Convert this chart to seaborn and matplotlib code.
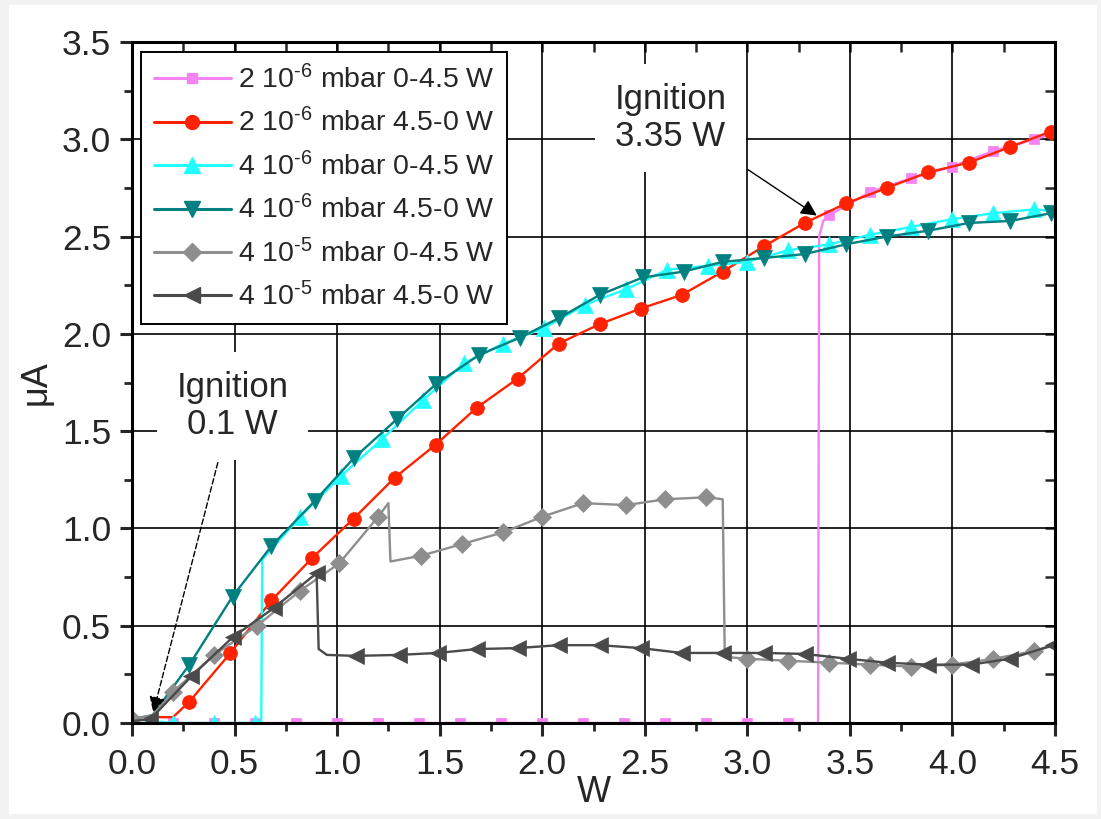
import numpy as np
import matplotlib
matplotlib.use("Agg")
import matplotlib.pyplot as plt
from matplotlib.lines import Line2D
from matplotlib.patches import Rectangle
from matplotlib.ticker import MultipleLocator
import seaborn as sns

# data (W, uA)
pink_w = [0.0, 0.2, 0.4, 0.6, 0.8, 1.0, 1.2, 1.4, 1.6, 1.8, 2.0, 2.2, 2.4, 2.6, 2.8, 3.0, 3.2,
          3.345, 3.35, 3.37, 3.4, 3.6, 3.8, 4.0, 4.2, 4.4, 4.5]
pink_ua = [0.0] * 18 + [2.5, 2.58, 2.61, 2.73, 2.80, 2.86, 2.94, 3.00, 3.03]

red_w = [0.10, 0.20, 0.28, 0.48, 0.68, 0.88, 1.08, 1.28, 1.48, 1.68, 1.88, 2.08, 2.28,
         2.48, 2.68, 2.88, 3.08, 3.28, 3.48, 3.68, 3.88, 4.08, 4.28, 4.48, 4.5]
red_ua = [0.03, 0.03, 0.11, 0.36, 0.63, 0.85, 1.05, 1.26, 1.43, 1.62, 1.77, 1.95, 2.05,
          2.13, 2.20, 2.32, 2.45, 2.57, 2.67, 2.75, 2.83, 2.88, 2.96, 3.04, 3.05]

cyan_w = [0.0, 0.2, 0.4, 0.6, 0.63, 0.635, 0.82, 1.02, 1.22, 1.42, 1.62, 1.81, 2.01, 2.21,
          2.41, 2.61, 2.81, 3.0, 3.2, 3.4, 3.6, 3.8, 4.0, 4.2, 4.4, 4.5]
cyan_ua = [0.02, 0.0, 0.0, 0.0, 0.0, 0.84, 1.06, 1.27, 1.46, 1.66, 1.85, 1.95, 2.03, 2.15,
           2.23, 2.33, 2.35, 2.37, 2.43, 2.46, 2.51, 2.55, 2.59, 2.62, 2.64, 2.63]

teal_w = [0.0, 0.1, 0.28, 0.49, 0.68, 0.89, 1.08, 1.29, 1.48, 1.69, 1.89, 2.08, 2.28, 2.49,
          2.69, 2.88, 3.08, 3.28, 3.48, 3.68, 3.88, 4.08, 4.28, 4.48, 4.5]
teal_ua = [0.02, 0.04, 0.30, 0.65, 0.91, 1.14, 1.36, 1.56, 1.74, 1.89, 1.98, 2.08, 2.20, 2.29,
           2.32, 2.37, 2.39, 2.41, 2.46, 2.50, 2.53, 2.57, 2.58, 2.62, 2.63]

grey_w = [0.0, 0.1, 0.2, 0.4, 0.61, 0.82, 1.01, 1.2, 1.25, 1.26, 1.41, 1.61, 1.81, 2.0, 2.2,
          2.41, 2.6, 2.8, 2.88, 2.89, 3.0, 3.2, 3.4, 3.6, 3.8, 4.0, 4.2, 4.4, 4.5]
grey_ua = [0.02, 0.04, 0.16, 0.35, 0.50, 0.68, 0.82, 1.06, 1.13, 0.83, 0.86, 0.92, 0.98, 1.06,
           1.13, 1.12, 1.15, 1.16, 1.15, 0.34, 0.33, 0.32, 0.31, 0.30, 0.29, 0.30, 0.33, 0.37, 0.40]

dark_w = [0.0, 0.09, 0.29, 0.49, 0.69, 0.90, 0.91, 0.95, 1.09, 1.3, 1.49, 1.68, 1.88, 2.08,
          2.28, 2.48, 2.68, 2.88, 3.08, 3.28, 3.49, 3.68, 3.88, 4.09, 4.28, 4.49]
dark_ua = [0.01, 0.02, 0.24, 0.44, 0.59, 0.77, 0.38, 0.35, 0.345, 0.35, 0.36, 0.38, 0.385, 0.40,
           0.40, 0.385, 0.36, 0.36, 0.36, 0.355, 0.33, 0.31, 0.30, 0.30, 0.33, 0.40]

labels = [r"2 10$^{\text{-6}}$ mbar 0-4.5 W", r"2 10$^{\text{-6}}$ mbar 4.5-0 W",
          r"4 10$^{\text{-6}}$ mbar 0-4.5 W", r"4 10$^{\text{-6}}$ mbar 4.5-0 W",
          r"4 10$^{\text{-5}}$ mbar 0-4.5 W", r"4 10$^{\text{-5}}$ mbar 4.5-0 W"]

series = [
    (pink_w, pink_ua, dict(color="#f483f4", marker="s", ms=7.5, markevery=list(range(17)) + list(range(20, 26)))),
    (red_w, red_ua, dict(color="#ff2200", marker="o", ms=10, markevery=list(range(2, 24)))),
    (cyan_w, cyan_ua, dict(color="#22ffff", marker="^", ms=11, markevery=[0, 1, 2, 3] + list(range(6, 25)))),
    (teal_w, teal_ua, dict(color="#008080", marker="v", ms=11, markevery=list(range(2, 24)))),
    (grey_w, grey_ua, dict(color="#8e8e8e", marker="D", ms=9, markevery=[0, 2, 3, 4, 5, 6, 7] + list(range(10, 18)) + list(range(20, 28)))),
    (dark_w, dark_ua, dict(color="#4a4a4a", marker="<", ms=11, markevery=[1, 2, 3, 4, 5] + list(range(8, 26)))),
]

sns.set_style("white")
plt.rcParams["font.family"] = ["Liberation Sans", "DejaVu Sans"]
plt.rcParams["mathtext.fontset"] = "custom"
plt.rcParams["mathtext.rm"] = "Liberation Sans"
plt.rcParams["mathtext.it"] = "Liberation Sans:italic"

fig, ax = plt.subplots(figsize=(11.01, 8.19), dpi=100)
fig.subplots_adjust(left=132 / 1101, right=1055 / 1101, bottom=1 - 723 / 819, top=1 - 42 / 819)
fig.patch.set_facecolor("#f2f2f2")
fig.patches.append(Rectangle((9 / 1101, 5 / 819), 1088 / 1101, 809 / 819, transform=fig.transFigure,
                             facecolor="white", edgecolor="none", zorder=-10))

handles = []
for w, ua, st in series:
    sns.lineplot(x=w, y=ua, ax=ax, estimator=None, sort=False, color=st["color"], linewidth=1.7,
                 marker=st["marker"], markersize=st["ms"], markevery=st["markevery"],
                 markeredgecolor=st["color"], markeredgewidth=0.5, legend=False)
    handles.append(Line2D([], [], color=st["color"], linewidth=2.2, marker=st["marker"],
                          markersize=st["ms"], markeredgecolor=st["color"]))

ax.set_xlim(0, 4.5)
ax.set_ylim(0, 3.5)
ax.xaxis.set_major_locator(MultipleLocator(0.5))
ax.yaxis.set_major_locator(MultipleLocator(0.5))
ax.xaxis.set_minor_locator(MultipleLocator(0.25))
ax.yaxis.set_minor_locator(MultipleLocator(0.25))
ax.xaxis.set_major_formatter("{x:.1f}")
ax.yaxis.set_major_formatter("{x:.1f}")
ax.grid(True, which="major", color="black", linewidth=1.2)
ax.set_axisbelow(True)
ax.tick_params(which="major", direction="out", length=9, width=2.2, labelsize=25.5,
               left=True, bottom=True)
ax.tick_params(axis="x", which="major", pad=9)
ax.tick_params(axis="y", which="major", pad=6)
ax.tick_params(which="minor", direction="out", length=6, width=2, left=True, bottom=True)
for s in ax.spines.values():
    s.set_linewidth(2.2)
    s.set_color("black")

sec = ax.secondary_xaxis("top")
sec.xaxis.set_major_locator(MultipleLocator(0.5))
sec.xaxis.set_minor_locator(MultipleLocator(0.25))
sec.tick_params(which="both", direction="in", length=7, width=1.8, labeltop=False)
sec = ax.secondary_yaxis("right")
sec.yaxis.set_major_locator(MultipleLocator(0.5))
sec.yaxis.set_minor_locator(MultipleLocator(0.25))
sec.tick_params(which="both", direction="in", length=7, width=1.8, labelright=False)

ax.set_xlabel("W", fontsize=26, labelpad=-4)
ax.set_ylabel("μA", fontsize=26, labelpad=6)

leg = ax.legend(handles, labels, loc="upper left", bbox_to_anchor=(0.0098, 0.985), borderaxespad=0,
                frameon=True, fancybox=False, edgecolor="black", framealpha=1, fontsize=20.5,
                handlelength=2.7, labelspacing=0.5, borderpad=0.45, handletextpad=0.25)
leg.get_frame().set_linewidth(1.4)

ax.annotate("Ignition\n3.35 W", xy=(3.35, 2.6), xytext=(2.625, 3.11), ha="center", va="center",
            fontsize=25, linespacing=1.15,
            bbox=dict(boxstyle="square,pad=0.55", fc="white", ec="none"),
            arrowprops=dict(arrowstyle="-|>", color="black", lw=1, mutation_scale=24))
ax.annotate("Ignition\n0.1 W", xy=(0.1, 0.04), xytext=(0.49, 1.63), ha="center", va="center",
            fontsize=25, linespacing=1.15,
            bbox=dict(boxstyle="square,pad=0.55", fc="white", ec="none"),
            arrowprops=dict(arrowstyle="-|>", color="black", lw=1, linestyle=(0, (4, 2)),
                            mutation_scale=24))

fig.savefig("out.png", dpi=100, facecolor=fig.get_facecolor())
